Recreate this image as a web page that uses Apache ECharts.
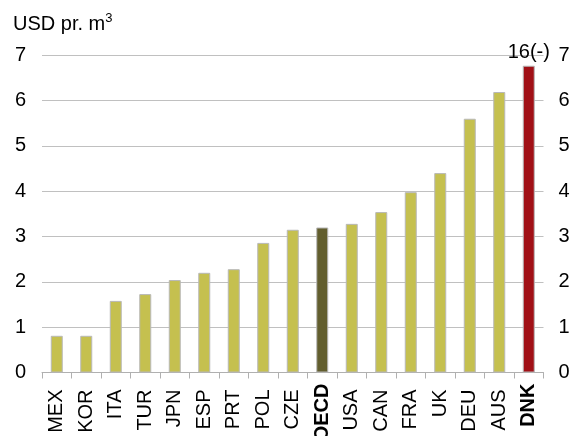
<!DOCTYPE html>
<html>
<head>
<meta charset="utf-8">
<script src="https://cdn.jsdelivr.net/npm/echarts@6/dist/echarts.min.js"></script>
<style>
  html, body { margin: 0; padding: 0; background: #fff; }
  #chart { width: 572px; height: 436px; }
</style>
</head>
<body>
<div id="chart"></div>
<script>
const categories = ['MEX','KOR','ITA','TUR','JPN','ESP','PRT','POL','CZE','OECD','USA','CAN','FRA','UK','DEU','AUS','DNK'];
const values = [0.81,0.81,1.58,1.73,2.04,2.20,2.28,2.86,3.15,3.20,3.28,3.54,3.98,4.40,5.60,6.19,6.77];
const boldCategories = ['OECD','DNK'];
const yTicks = [0,1,2,3,4,5,6,7];
const dnkNote = '16(-)';
const unitText = 'USD pr. m';
const unitSup = '3';

const FONT = "'Liberation Sans', Arial, sans-serif";
const FS = 20;
const baseColor = '#c5c04f';
const specialColors = { OECD: '#625e2e', DNK: '#a11016' };

const seriesData = categories.map((c, i) => {
  const d = {
    value: values[i],
    itemStyle: { color: specialColors[c] || baseColor }
  };
  if (c === 'DNK') {
    d.label = {
      show: true, position: 'top', distance: 3,
      formatter: dnkNote, fontSize: FS, color: '#000', fontFamily: FONT
    };
  }
  return d;
});

const chart = echarts.init(document.getElementById('chart'), null, { renderer: 'canvas' });
const yAxisCommon = {
  type: 'value', min: yTicks[0], max: yTicks[yTicks.length - 1], interval: 1,
  axisLine: { show: false }, axisTick: { show: false },
};
chart.setOption({
  animation: false,
  backgroundColor: '#fff',
  grid: { left: 42, right: 28.5, top: 55.3, bottom: 63.5, containLabel: false, outerBoundsMode: 'none' },
  graphic: [{
    type: 'text', left: 13, top: 12,
    style: {
      text: '{a|' + unitText + '}{s|' + unitSup + '}',
      rich: {
        a: { fontSize: FS, fontFamily: FONT, fill: '#000', verticalAlign: 'bottom' },
        s: { fontSize: 13, fontFamily: FONT, fill: '#000', verticalAlign: 'bottom', padding: [0, 0, 9, 0] }
      }
    }
  }],
  xAxis: {
    type: 'category', data: categories,
    axisLine: { lineStyle: { color: '#b0b0b0', width: 1 } },
    axisTick: { show: true, length: 6, lineStyle: { color: '#b0b0b0' } },
    axisLabel: {
      rotate: 90, margin: 11, interval: 0, fontSize: FS, color: '#000', fontFamily: FONT,
      formatter: v => boldCategories.includes(v) ? '{b|' + v + '}' : '{n|' + v + '}',
      rich: {
        n: { fontSize: FS, fontFamily: FONT, color: '#000', padding: [0, 6, 0, 0] },
        b: { fontSize: FS, fontFamily: FONT, color: '#000', fontWeight: 'bold' }
      }
    }
  },
  yAxis: [
    Object.assign({}, yAxisCommon, {
      position: 'left',
      splitLine: { show: true, lineStyle: { color: '#c0c0c0', width: 1 } },
      axisLabel: { fontSize: FS, color: '#000', fontFamily: FONT, margin: 16 }
    }),
    Object.assign({}, yAxisCommon, {
      position: 'right',
      splitLine: { show: false },
      axisLabel: { fontSize: FS, color: '#000', fontFamily: FONT, margin: 15 }
    })
  ],
  series: [{
    type: 'bar', data: seriesData, barWidth: 12,
    itemStyle: { borderColor: '#b8b8b8', borderWidth: 1 }
  }]
});
</script>
</body>
</html>
